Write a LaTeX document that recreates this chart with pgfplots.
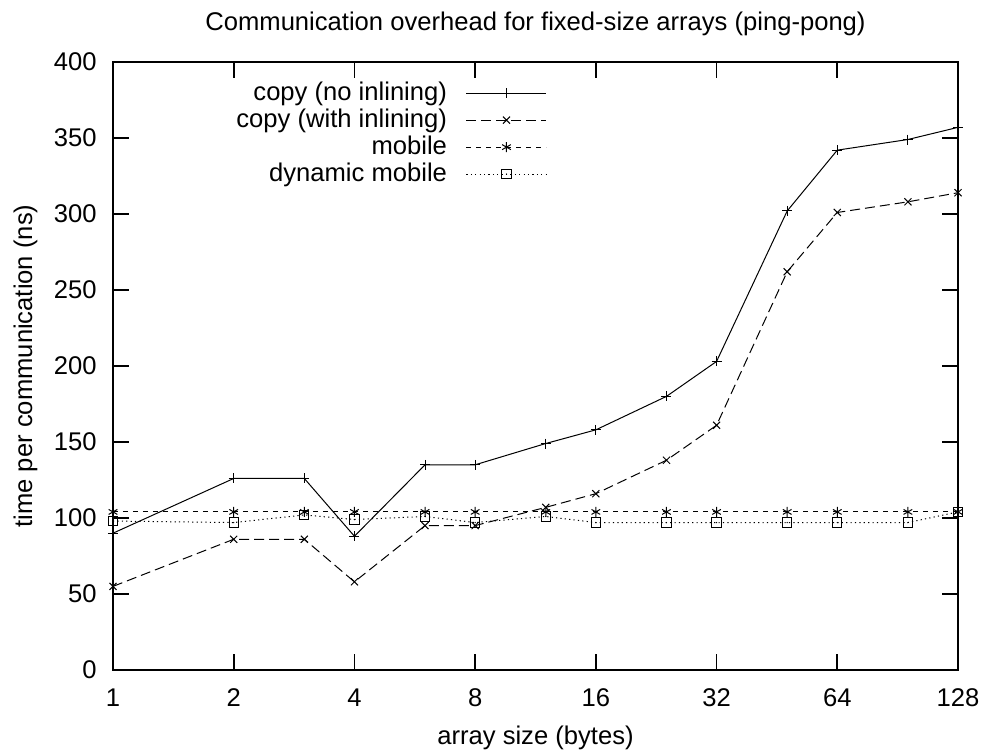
\documentclass[border=0pt]{standalone}
\usepackage{pgfplots}
\pgfplotsset{compat=1.18}
\usepackage{fontspec}
\setmainfont{Liberation Sans}

% square with a dot in the middle, as gnuplot draws it
\pgfdeclareplotmark{sqdot}{%
  \pgfpathrectangle{\pgfqpoint{-\pgfplotmarksize}{-\pgfplotmarksize}}{\pgfqpoint{2\pgfplotmarksize}{2\pgfplotmarksize}}%
  \pgfusepathqstroke
  \pgfpathcircle{\pgfpointorigin}{0.35pt}%
  \pgfusepathqfill}

\pgfplotstableread{
x    nocopy withinl mobile dynmob
1    90   55   104  98
2    126  86   104  97
3    126  86   104  102
4    88   58   104  99
6    135  95   104  101
8    135  95   104  97
12   149  107  104  101
16   158  116  104  97
24   180  138  104  97
32   203  161  104  97
48   302  262  104  97
64   342  301  104  97
96   349  308  104  97
128  357  314  104  104
}\data

\begin{document}
\begin{tikzpicture}[font=\fontsize{12.8}{15}\selectfont]
\useasboundingbox (-56.5pt,-41.5pt) rectangle (436pt,335pt);
\begin{axis}[
  scale only axis,
  width=422.5pt, height=304pt,
  xmode=log, log basis x=2,
  xmin=1, xmax=128, ymin=0, ymax=400,
  xtick={1,2,4,8,16,32,64,128},
  xticklabels={1,2,4,8,16,32,64,128},
  ytick={0,50,...,400},
  minor tick num=0,
  tick align=inside,
  major tick length=8pt,
  every tick/.style={black, line width=0.9pt},
  axis line style={line width=0.9pt},
  /pgf/number format/assume math mode=true,
  xticklabel style={anchor=base, inner sep=0pt, yshift=-18.4pt},
  yticklabel style={anchor=east, inner sep=0pt, xshift=-8pt},
  title={Communication overhead for fixed-size arrays (ping-pong)},
  title style={at={(axis description cs:0.5,1)}, anchor=base, inner sep=0pt, yshift=9.5pt},
  xlabel={array size (bytes)},
  xlabel style={at={(axis description cs:0.5,0)}, anchor=base, inner sep=0pt, yshift=-37.5pt},
  ylabel={time per communication (ns)},
  ylabel style={at={(axis description cs:-0.1036,0.5)}, anchor=center, inner sep=0pt},
  legend style={draw=none, fill=none, at={(axis description cs:0.5136,0.971)}, anchor=north east,
    cells={anchor=east}, row sep=0pt, column sep=9.5pt, inner sep=0pt, outer sep=0pt,
    nodes={inner sep=0pt, text height=10.5pt, text depth=3pt}},
  legend plot pos=right,
  legend image code/.code={%
    \draw[mark repeat=2, mark phase=2, #1] plot coordinates {(0pt,0pt) (20pt,0pt) (40pt,0pt)};},
  every axis plot/.append style={black, line width=0.5pt, mark size=2.5pt,
    mark options={solid, line width=0.5pt}},
]
\addplot[mark=+] table[x=x, y=nocopy] {\data};
\addlegendentry{copy (no inlining)}
\addplot[mark=x, dash pattern=on 5pt off 2.5pt] table[x=x, y=withinl] {\data};
\addlegendentry{copy (with inlining)}
\addplot[mark=asterisk, dash pattern=on 2.5pt off 2.5pt] table[x=x, y=mobile] {\data};
\addlegendentry{mobile}
\addplot[mark=sqdot, mark size=2.3pt, dash pattern=on 0.6pt off 1.6pt] table[x=x, y=dynmob] {\data};
\addlegendentry{dynamic mobile}
\end{axis}
\end{tikzpicture}
\end{document}
